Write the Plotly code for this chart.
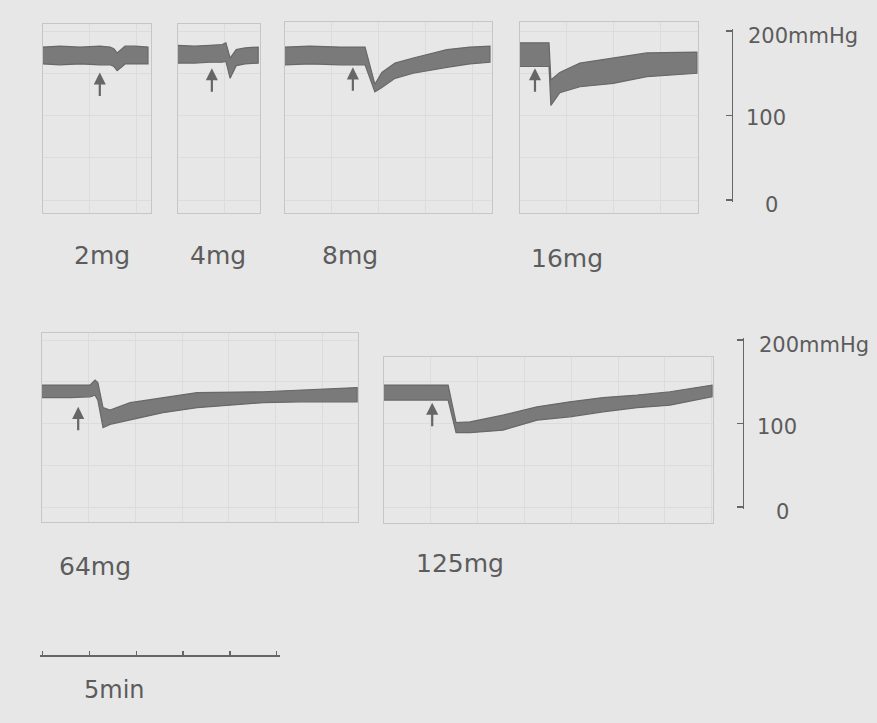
import plotly.graph_objects as go

# ---------------- data (time in min from panel start, pressure in mmHg) ----------------
doses = ["2mg", "4mg", "8mg", "16mg", "64mg", "125mg"]

t_2mg = [0, 0.37, 0.8, 1.22, 1.44, 1.52, 1.59, 1.68, 1.76, 1.97, 2.25]
sys_2mg = [181, 182, 181, 182, 181, 179, 174, 178, 182, 182, 181]
dia_2mg = [161, 160, 161, 160, 160, 158, 153, 157, 161, 161, 161]

t_4mg = [0, 0.36, 0.69, 0.95, 1.03, 1.12, 1.25, 1.44, 1.72]
sys_4mg = [183, 182, 183, 184, 186, 168, 178, 180, 181]
dia_4mg = [162, 162, 163, 163, 164, 144, 159, 161, 162]

t_8mg = [0, 0.53, 1.18, 1.71, 1.92, 2.07, 2.35, 2.74, 3.46, 3.95, 4.38]
sys_8mg = [181, 182, 181, 181, 137, 151, 162, 168, 178, 181, 182]
dia_8mg = [160, 161, 160, 160, 128, 133, 144, 150, 157, 161, 163]

t_16mg = [0, 0.32, 0.62, 0.66, 0.85, 1.28, 1.99, 2.71, 3.78]
sys_16mg = [186, 186, 186, 142, 151, 162, 168, 174, 175]
dia_16mg = [158, 158, 158, 112, 127, 134, 138, 146, 150]

t_64mg = [0, 0.6, 1.03, 1.14, 1.2, 1.31, 1.46, 1.89, 2.59, 3.32, 4.73, 5.52, 6.74]
sys_64mg = [146, 146, 146, 152, 149, 119, 116, 125, 131, 137, 138, 140, 143]
dia_64mg = [131, 131, 132, 134, 128, 95, 99, 104, 113, 119, 125, 126, 126]

t_125mg = [0, 0.77, 1.37, 1.54, 1.84, 2.54, 3.27, 3.97, 4.68, 5.41, 6.11, 7.01]
sys_125mg = [146, 146, 146, 101, 102, 110, 120, 126, 131, 134, 138, 146]
dia_125mg = [128, 128, 128, 89, 89, 92, 104, 108, 114, 119, 122, 132]

# injection arrows: time (min), arrow head pressure (mmHg)
arrow_t = [1.22, 0.73, 1.45, 0.32, 0.78, 1.03]
arrow_p = [151, 156, 157, 156, 120, 125]

scale_ticks = [0, 100, 200]
scale_labels = ["0", "100", "200mmHg"]
time_ticks = [0, 1, 2, 3, 4, 5]
time_label = "5min"

series_t = [t_2mg, t_4mg, t_8mg, t_16mg, t_64mg, t_125mg]
series_sys = [sys_2mg, sys_4mg, sys_8mg, sys_16mg, sys_64mg, sys_125mg]
series_dia = [dia_2mg, dia_4mg, dia_8mg, dia_16mg, dia_64mg, dia_125mg]

# ---------------- layout constants (pixels) ----------------
W, H = 877, 723
PX_PER_MIN = 46.8
# panel boxes: left, right, top, bottom, row
boxes = [
    (42.7, 150.7, 24, 213, 0),
    (177.7, 260, 24, 213, 0),
    (285, 492, 22, 213, 0),
    (520, 698, 22, 213, 0),
    (41.7, 358, 333, 522, 1),
    (384, 713, 357, 523, 1),
]
# row pressure mapping: pixel y of 0 mmHg, px per mmHg
rows = [(200.0, 0.845), (507.0, 0.835)]
scale_x = [731.7, 742.7]

BG = "#e7e7e7"
INK = "#5c5c5c"
TRACE = "#7a7a7a"
GRID = "#dcdcdc"
FONT = "DejaVu Sans"

fig = go.Figure()
layout = {}
annotations = []

def ydom(top, bottom):
    return [1 - bottom / H, 1 - top / H]

for i in range(6):
    left, right, top, bottom, row = boxes[i]
    y0, k = rows[row]
    n = i + 1
    xa = "x" if n == 1 else f"x{n}"
    ya = "y" if n == 1 else f"y{n}"
    xkey = "xaxis" if n == 1 else f"xaxis{n}"
    ykey = "yaxis" if n == 1 else f"yaxis{n}"
    t = series_t[i]
    xs = list(t) + list(reversed(t))
    ys = list(series_sys[i]) + list(reversed(series_dia[i]))
    fig.add_trace(go.Scatter(
        x=xs, y=ys, xaxis=xa, yaxis=ya, mode="lines", fill="toself",
        fillcolor=TRACE, line=dict(color="#686868", width=1.2),
        hoverinfo="skip", showlegend=False))
    layout[xkey] = dict(
        domain=[left / W, right / W], range=[0, (right - left) / PX_PER_MIN],
        anchor=ya, showline=True, mirror=True, linecolor="#c6c6c6", linewidth=1,
        showgrid=True, gridcolor=GRID, gridwidth=1, dtick=1,
        showticklabels=False, ticks="", zeroline=False, fixedrange=True)
    layout[ykey] = dict(
        domain=ydom(top, bottom),
        range=[(y0 - bottom) / k, (y0 - top) / k],
        anchor=xa, showline=True, mirror=True, linecolor="#c6c6c6", linewidth=1,
        showgrid=True, gridcolor=GRID, gridwidth=1, dtick=50,
        showticklabels=False, ticks="", zeroline=False, fixedrange=True)
    annotations.append(dict(
        xref=xa, yref=ya, x=arrow_t[i], y=arrow_p[i], ax=0, ay=25,
        text="", showarrow=True, arrowhead=2, arrowsize=1.1, arrowwidth=2.2,
        arrowcolor="#666666"))

# dose labels (pixel centres)
label_pos = [(102, 255), (218, 255), (350, 255), (567, 258), (95, 566), (460, 563)]
for name, (px, py) in zip(doses, label_pos):
    annotations.append(dict(
        xref="paper", yref="paper", x=px / W, y=1 - py / H, text=name,
        showarrow=False, font=dict(family=FONT, size=25, color=INK),
        xanchor="center", yanchor="middle"))

# pressure scale bars (one per row)
PAD = 2.5  # mmHg of padding so end ticks are drawn
for r in range(2):
    n = 7 + r
    y0, k = rows[r]
    xa, ya = f"x{n}", f"y{n}"
    fig.add_trace(go.Scatter(x=[0], y=[None], xaxis=xa, yaxis=ya,
                             mode="markers", showlegend=False, hoverinfo="skip"))
    layout[f"xaxis{n}"] = dict(domain=[0.84, 0.85], anchor=ya, visible=False,
                               fixedrange=True)
    layout[f"yaxis{n}"] = dict(
        domain=ydom(y0 - (200 + PAD) * k, y0 + PAD * k), range=[-PAD, 200 + PAD],
        anchor="free", position=scale_x[r] / W, side="right", showline=True,
        linecolor="#666666", linewidth=1.6, ticks="inside", ticklen=6, tickwidth=1.6,
        tickcolor="#666666", tickvals=scale_ticks, showticklabels=False,
        showgrid=False, zeroline=False, fixedrange=True)
    # label centres relative to the bar (pixels)
    offsets = [(40, 5), (34, 3), (71, 5)]
    for val, lab, (dx, dy) in zip(scale_ticks, scale_labels, offsets):
        py = y0 - val * k + dy
        annotations.append(dict(
            xref="paper", yref="paper", x=(scale_x[r] + dx) / W, y=1 - py / H,
            text=lab, showarrow=False, font=dict(family=FONT, size=21, color=INK),
            xanchor="center", yanchor="middle"))

# 5 min time bar
fig.add_trace(go.Scatter(x=[None], y=[0], xaxis="x9", yaxis="y9",
                         mode="markers", showlegend=False, hoverinfo="skip"))
TP = 0.06
layout["xaxis9"] = dict(
    domain=[(42.7 - TP * PX_PER_MIN) / W, (276.7 + TP * PX_PER_MIN) / W],
    range=[-TP, 5 + TP], anchor="free", position=1 - 655 / H,
    showline=True, linecolor="#666666", linewidth=1.6, ticks="inside", ticklen=4,
    tickwidth=1.4, tickcolor="#666666", tickvals=time_ticks, showticklabels=False,
    showgrid=False, zeroline=False, fixedrange=True)
layout["yaxis9"] = dict(domain=[0, 0.05], anchor="x9", visible=False, fixedrange=True)
annotations.append(dict(
    xref="paper", yref="paper", x=114 / W, y=1 - 690 / H, text=time_label,
    showarrow=False, font=dict(family=FONT, size=24, color=INK),
    xanchor="center", yanchor="middle"))

fig.update_layout(
    width=W, height=H, margin=dict(l=0, r=0, t=0, b=0),
    paper_bgcolor=BG, plot_bgcolor="rgba(0,0,0,0)",
    showlegend=False, annotations=annotations, **layout)

fig.write_html(
    "out.html",
    config={"displayModeBar": False, "staticPlot": True},
    post_script="document.body.style.margin='0';document.body.style.background='" + BG + "';",
)
